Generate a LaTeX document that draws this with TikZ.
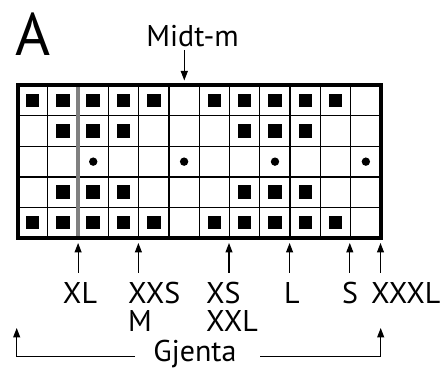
\documentclass[tikz,border=0pt]{standalone}
\usepackage{fontspec}
\setmainfont{PT Sans}
\usetikzlibrary{arrows.meta}
\begin{document}
\begin{tikzpicture}[x=1pt,y=-1pt,
  grid/.style={line width=1.3pt},
  frame/.style={line width=4pt},
  sep/.style={line width=4pt,draw={rgb,255:red,128;green,128;blue,128}},
  arr/.style={line width=1.1pt,-{Triangle[length=9.5pt,width=7pt]}},
  lbl/.style={font=\fontsize{30}{30}\selectfont,inner sep=0pt},
  big/.style={font=\fontsize{60}{60}\selectfont,inner sep=0pt}]
\useasboundingbox (0,0) rectangle (445,371);
\def\cw{30.292}
\def\ch{30.54}
% grid lines
\foreach \i in {1,...,11} \draw[grid] (17.5+\i*\cw,85.3) -- (17.5+\i*\cw,238);
\foreach \j in {1,...,4} \draw[grid] (17.5,85.3+\j*\ch) -- (381,85.3+\j*\ch);
% squares
\foreach \c in {1,2,3,4,5,7,8,9,10,11} {
  \fill (17.5+\c*\cw-\cw/2-6.75,85.3+0.5*\ch-6.75) rectangle ++(13.5,13.5);
  \fill (17.5+\c*\cw-\cw/2-6.75,85.3+4.5*\ch-6.75) rectangle ++(13.5,13.5);
}
\foreach \c in {2,3,4,8,9,10} {
  \fill (17.5+\c*\cw-\cw/2-6.75,85.3+1.5*\ch-6.75) rectangle ++(13.5,13.5);
  \fill (17.5+\c*\cw-\cw/2-6.75,85.3+3.5*\ch-6.75) rectangle ++(13.5,13.5);
}
\foreach \c in {3,6,9,12}
  \fill (17.5+\c*\cw-\cw/2,85.3+2.5*\ch) circle (4.2);
% gray separator
\draw[sep] (17.5+2*\cw,86) -- (17.5+2*\cw,238);
% frame
\draw[frame] (17.5,85.3) rectangle (381,238);
% texts
\node[big,anchor=base west] (A) at (15,56) {A};
\node[lbl,anchor=base] (midt) at (192.5,46.7) {Midt-m};
\node[lbl,anchor=base] (xl) at (80,303.3) {XL};
\node[lbl,anchor=base west] (xxs) at (128,303.3) {XXS};
\node[lbl,anchor=base west] (m) at (128,331.7) {M};
\node[lbl,anchor=base west] (xs) at (206,303.3) {XS};
\node[lbl,anchor=base west] (xxl) at (206,331.7) {XXL};
\node[lbl,anchor=base] (l) at (292,303.3) {L};
\node[lbl,anchor=base] (s) at (350,303.3) {S};
\node[lbl,anchor=base west] (xxxl) at (371,303.3) {XXXL};
\node[lbl,anchor=base] (gj) at (195,361.7) {Gjenta};
% arrow coordinates
\coordinate (mt) at (184.3,50);
\coordinate (mh) at (184.3,80.5);
\draw[arr] (mt) -- (mh);
\foreach \n/\x in {a/78.1,b/138.4,c/229,d/289.6,e/349.8,f/380.5} {
  \coordinate (t\n) at (\x,273);
  \coordinate (h\n) at (\x,243);
  \draw[arr] (t\n) -- (h\n);
}
\coordinate (gl) at (135,356.7);
\coordinate (glh) at (16.7,328);
\coordinate (gr) at (260,356.7);
\coordinate (grh) at (380.7,328);
\draw[arr] (gl) -| (glh);
\draw[arr] (gr) -| (grh);
\end{tikzpicture}
\end{document}
